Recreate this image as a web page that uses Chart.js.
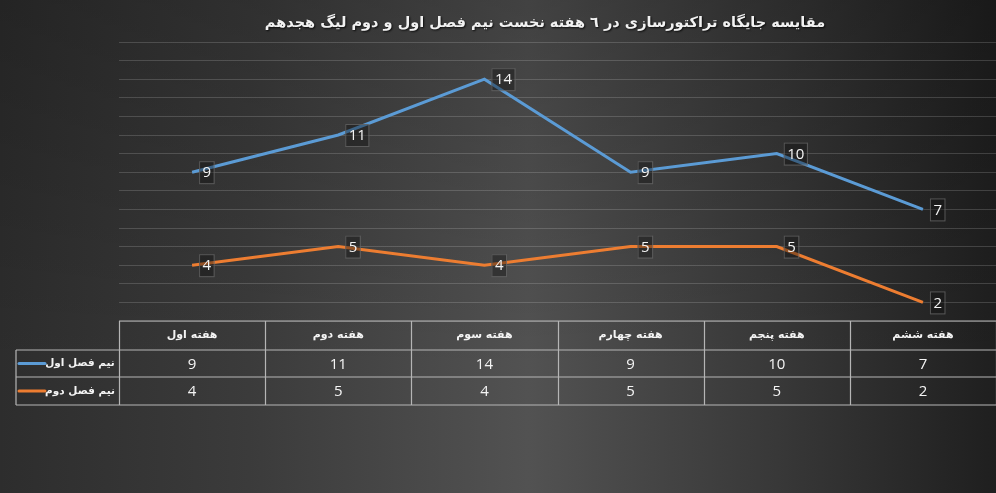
<!DOCTYPE html>
<html lang="fa">
<head>
    <meta charset="UTF-8">
    <title>مقایسه جایگاه تراکتورسازی</title>
    <style>
        html, body {
            margin: 0;
            padding: 0;
            background: #2a2a2a;
        }
        #wrap {
            width: 996px;
            height: 493px;
        }
    </style>
    <script src="https://cdn.jsdelivr.net/npm/chart.js"></script>
</head>
<body>
    <div id="wrap"><canvas id="rankChart" width="996" height="493"></canvas></div>
    <script>
        // chart data
        const titleText = 'مقایسه جایگاه تراکتورسازی در ٦ هفته نخست نیم فصل اول و دوم لیگ هجدهم';
        const categories = ['هفته اول', 'هفته دوم', 'هفته سوم', 'هفته چهارم', 'هفته پنجم', 'هفته ششم'];
        const seriesNames = ['نیم فصل اول', 'نیم فصل دوم'];
        const firstHalf = [9, 11, 14, 9, 10, 7];
        const secondHalf = [4, 5, 4, 5, 5, 2];
        const seriesColors = ['#5b9bd5', '#ed7d31'];
        const yMin = 1;
        const yMax = 16;

        const faFont = '"DejaVu Sans", sans-serif';
        const numFont = '"Open Sans", "DejaVu Sans", sans-serif';

        // dark background (bright band in the middle) + title
        const backdrop = {
            id: 'backdrop',
            beforeDraw(chart) {
                const ctx = chart.ctx;
                const w = chart.width, h = chart.height;
                ctx.save();
                const gx = ctx.createLinearGradient(0, 0, w, 0);
                gx.addColorStop(0, '#2d2d2d');
                gx.addColorStop(0.25, '#3b3b3b');
                gx.addColorStop(0.53, '#525252');
                gx.addColorStop(0.78, '#383838');
                gx.addColorStop(1, '#1f1f1f');
                ctx.fillStyle = gx;
                ctx.fillRect(0, 0, w, h);
                const gy = ctx.createLinearGradient(0, 0, 0, h);
                gy.addColorStop(0, 'rgba(0,0,0,0.2)');
                gy.addColorStop(0.75, 'rgba(0,0,0,0)');
                ctx.fillStyle = gy;
                ctx.fillRect(0, 0, w, h);

                ctx.font = 'bold 14.5px ' + faFont;
                ctx.textAlign = 'center';
                ctx.textBaseline = 'middle';
                ctx.shadowColor = 'rgba(0,0,0,0.8)';
                ctx.shadowOffsetX = 1;
                ctx.shadowOffsetY = 1;
                ctx.shadowBlur = 2;
                ctx.fillStyle = '#f2f2f2';
                ctx.fillText(titleText, 545, 23);
                ctx.restore();
            }
        };

        // boxed value labels to the right of each point
        const boxLabels = {
            id: 'boxLabels',
            afterDatasetsDraw(chart) {
                const ctx = chart.ctx;
                ctx.save();
                ctx.font = '15px ' + numFont;
                ctx.textBaseline = 'middle';
                ctx.textAlign = 'center';
                chart.data.datasets.forEach((ds, di) => {
                    chart.getDatasetMeta(di).data.forEach((pt, i) => {
                        const txt = String(ds.data[i]);
                        const w = ctx.measureText(txt).width + 6;
                        const x = pt.x + 7;
                        const y = pt.y - 11;
                        ctx.fillStyle = 'rgba(15,15,15,0.4)';
                        ctx.fillRect(x, y, w, 22);
                        ctx.strokeStyle = 'rgba(100,100,100,0.8)';
                        ctx.lineWidth = 1;
                        ctx.strokeRect(x + 0.5, y + 0.5, w, 22);
                        ctx.fillStyle = '#f4f4f4';
                        ctx.fillText(txt, x + w / 2 + 0.5, pt.y + 1);
                    });
                });
                ctx.restore();
            }
        };

        // data table under the plot
        const dataTable = {
            id: 'dataTable',
            afterDraw(chart) {
                const ctx = chart.ctx;
                const xs = chart.scales.x;
                const area = chart.chartArea;
                const colW = (area.right - area.left) / categories.length;
                const top = Math.round(area.bottom);
                const rows = [top, top + 29, top + 56, top + 84];
                const legendLeft = 16;
                const right = area.right + 4;

                ctx.save();
                ctx.strokeStyle = '#b5b5b5';
                ctx.lineWidth = 1.2;
                ctx.beginPath();
                // horizontal lines
                ctx.moveTo(area.left, rows[0]); ctx.lineTo(right, rows[0]);
                for (let r = 1; r < rows.length; r++) {
                    ctx.moveTo(legendLeft, rows[r]); ctx.lineTo(right, rows[r]);
                }
                // vertical lines
                ctx.moveTo(legendLeft, rows[1]); ctx.lineTo(legendLeft, rows[3]);
                for (let c = 0; c <= categories.length; c++) {
                    const x = Math.round(area.left + c * colW) + 0.5;
                    ctx.moveTo(x, rows[0]); ctx.lineTo(x, rows[3]);
                }
                ctx.stroke();

                ctx.textAlign = 'center';
                ctx.textBaseline = 'middle';
                ctx.fillStyle = '#f4f4f4';

                // header row
                ctx.font = 'bold 11px ' + faFont;
                categories.forEach((c, i) => {
                    ctx.fillText(c, xs.getPixelForValue(i), (rows[0] + rows[1]) / 2);
                });

                // value rows
                ctx.font = '15px ' + numFont;
                chart.data.datasets.forEach((ds, di) => {
                    const cy = (rows[di + 1] + rows[di + 2]) / 2 + 1;
                    ds.data.forEach((v, i) => {
                        ctx.fillText(String(v), xs.getPixelForValue(i), cy);
                    });
                });

                // legend keys + series names
                chart.data.datasets.forEach((ds, di) => {
                    const cy = (rows[di + 1] + rows[di + 2]) / 2;
                    ctx.strokeStyle = ds.borderColor;
                    ctx.lineWidth = 3;
                    ctx.lineCap = 'round';
                    ctx.beginPath();
                    ctx.moveTo(19, cy);
                    ctx.lineTo(45, cy);
                    ctx.stroke();
                    ctx.font = 'bold 10.5px ' + faFont;
                    ctx.textAlign = 'center';
                    ctx.fillText(ds.label, 80, cy);
                });
                ctx.restore();
            }
        };

        new Chart(document.getElementById('rankChart'), {
            type: 'line',
            data: {
                labels: categories,
                datasets: [
                    {
                        label: seriesNames[0],
                        data: firstHalf,
                        borderColor: seriesColors[0],
                        borderWidth: 3,
                        pointRadius: 0,
                        tension: 0
                    },
                    {
                        label: seriesNames[1],
                        data: secondHalf,
                        borderColor: seriesColors[1],
                        borderWidth: 3,
                        pointRadius: 0,
                        tension: 0
                    }
                ]
            },
            options: {
                responsive: false,
                animation: false,
                layout: {
                    padding: { left: 119, right: 0, top: 42, bottom: 172 }
                },
                scales: {
                    x: {
                        display: false,
                        offset: true
                    },
                    y: {
                        min: yMin,
                        max: yMax,
                        ticks: { display: false, stepSize: 1 },
                        grid: { color: 'rgba(255,255,255,0.16)', lineWidth: 1, drawTicks: false },
                        border: { display: false }
                    }
                },
                plugins: {
                    legend: { display: false },
                    tooltip: { enabled: false },
                    title: { display: false }
                }
            },
            plugins: [backdrop, boxLabels, dataTable]
        });
    </script>
</body>
</html>
